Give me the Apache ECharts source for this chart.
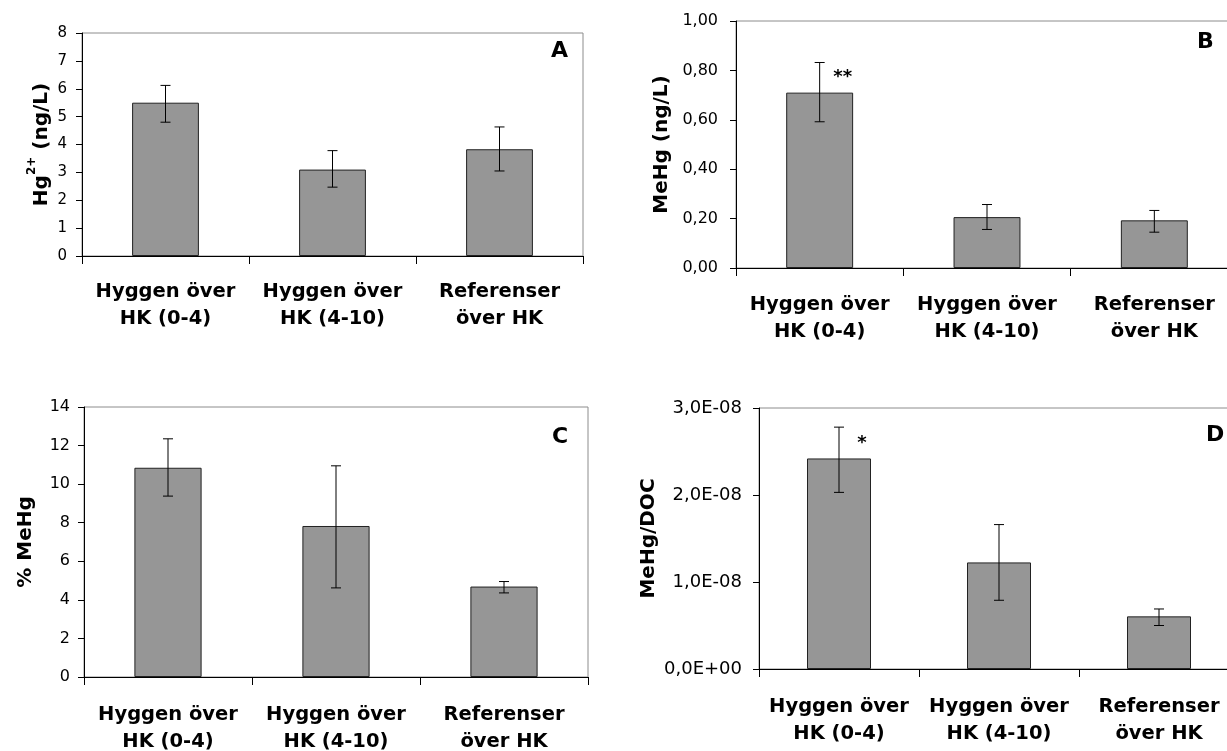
<!DOCTYPE html>
<html>
<head>
<meta charset="utf-8">
<title>Hg / MeHg</title>
<script src="https://cdn.jsdelivr.net/npm/echarts@6/dist/echarts.min.js"></script>
<style>
html,body{margin:0;padding:0;background:#fff;}
#chart{width:1227px;height:751px;}
</style>
</head>
<body>
<div id="chart"></div>
<script>
// categories (same for all four panels)
const categories = ['Hyggen över\nHK (0-4)', 'Hyggen över\nHK (4-10)', 'Referenser\növer HK'];

// A: Hg2+ (ng/L)
const hgMean = [5.5, 3.1, 3.83];
const hgLow = [4.8, 2.47, 3.05];
const hgHigh = [6.12, 3.78, 4.63];

// B: MeHg (ng/L)
const mehgMean = [0.71, 0.206, 0.193];
const mehgLow = [0.592, 0.156, 0.145];
const mehgHigh = [0.832, 0.257, 0.233];
const mehgNotes = ['**', '', ''];

// C: % MeHg
const pctMean = [10.85, 7.83, 4.69];
const pctLow = [9.38, 4.62, 4.36];
const pctHigh = [12.35, 10.95, 4.95];

// D: MeHg/DOC
const docMean = [2.42e-8, 1.225e-8, 0.605e-8];
const docLow = [2.03e-8, 0.79e-8, 0.5e-8];
const docHigh = [2.78e-8, 1.66e-8, 0.69e-8];
const docNotes = ['*', '', ''];

const yTicksA = {min: 0, max: 8, interval: 1};
const yTicksB = {min: 0, max: 1, interval: 0.2};
const yTicksC = {min: 0, max: 14, interval: 2};
const yTicksD = {min: 0, max: 3e-8, interval: 1e-8};

const FONT = 'DejaVu Sans';

function commaFixed(d){
  return function(v){ return v.toFixed(d).replace('.', ','); };
}
function sciComma(v){
  if (v === 0) return '0,0E+00';
  let e = Math.floor(Math.log10(v) + 1e-9);
  let m = v / Math.pow(10, e);
  let s = e < 0 ? '-' : '+';
  let ee = Math.abs(e);
  return m.toFixed(1).replace('.', ',') + 'E' + s + (ee < 10 ? '0' + ee : ee);
}

const chart = echarts.init(document.getElementById('chart'));

let grids = [], xAxes = [], yAxes = [], series = [], titles = [];

function panel(p){
  let i = grids.length;
  grids.push({
    left: p.box[0], top: p.box[1], width: p.box[2], height: p.box[3],
    show: true, borderColor: '#8c8c8c', borderWidth: 1,
    containLabel: false, outerBoundsMode: 'none'
  });
  xAxes.push({
    type: 'category', gridIndex: i, data: categories,
    axisLine: {lineStyle: {color: '#000', width: 1}},
    axisTick: {show: true, inside: false, length: 8, lineStyle: {color: '#000'}},
    axisLabel: {interval: 0, margin: p.xMargin, color: '#000', fontFamily: FONT,
      fontSize: 19.5, fontWeight: 'bold', lineHeight: 27}
  });
  yAxes.push({
    type: 'value', gridIndex: i, min: p.ticks.min, max: p.ticks.max, interval: p.ticks.interval,
    name: p.name, nameLocation: 'middle', nameRotate: 90, nameGap: p.nameGap,
    nameTextStyle: Object.assign({color: '#000', fontFamily: FONT, fontSize: 20, fontWeight: 'bold'}, p.nameStyle || {}),
    axisLine: {show: true, lineStyle: {color: '#000', width: 1}},
    axisTick: {show: true, length: 6, lineStyle: {color: '#000'}},
    splitLine: {show: false},
    axisLabel: {margin: p.yMargin, color: '#000', fontFamily: FONT, fontSize: p.tickSize, formatter: p.fmt}
  });
  series.push({
    type: 'bar', xAxisIndex: i, yAxisIndex: i, data: p.mean, barWidth: '40%',
    itemStyle: {color: '#969696', borderColor: '#222', borderWidth: 1},
    silent: true
  });
  let notes = p.notes || ['', '', ''];
  series.push({
    type: 'custom', xAxisIndex: i, yAxisIndex: i, z: 5, silent: true,
    data: categories.map((c, k) => [k, p.low[k], p.high[k], p.mean[k]]),
    renderItem: function(params, api){
      let k = api.value(0);
      let lo = api.coord([k, api.value(1)]);
      let hi = api.coord([k, api.value(2)]);
      let top = api.coord([k, api.value(3)]);
      let st = {stroke: '#000', lineWidth: 1};
      let kids = [
        {type: 'line', shape: {x1: hi[0], y1: hi[1], x2: lo[0], y2: lo[1]}, style: st},
        {type: 'line', shape: {x1: hi[0] - 5, y1: hi[1], x2: hi[0] + 5, y2: hi[1]}, style: st},
        {type: 'line', shape: {x1: lo[0] - 5, y1: lo[1], x2: lo[0] + 5, y2: lo[1]}, style: st}
      ];
      // significance stars
      if (notes[k]) {
        kids.push({type: 'text', x: top[0] + 23, y: top[1] - 6,
          style: {text: notes[k], fill: '#000', font: 'bold 18px ' + FONT,
            textAlign: 'center', textVerticalAlign: 'bottom'}});
      }
      return {type: 'group', children: kids};
    }
  });
  titles.push({text: p.letter, left: p.letterPos[0], top: p.letterPos[1], padding: 0,
    textStyle: {fontFamily: FONT, fontSize: 22, fontWeight: 'bold', color: '#000'}});
}

panel({box: [82, 33, 501, 223], ticks: yTicksA, mean: hgMean, low: hgLow, high: hgHigh,
  name: '{b|Hg}{s|2+}{b| (ng/L)}', nameGap: 30, xMargin: 22, yMargin: 15, tickSize: 15,
  nameStyle: {rich: {
    b: {fontFamily: FONT, fontSize: 20, fontWeight: 'bold', color: '#000', lineHeight: 26, verticalAlign: 'bottom'},
    s: {fontFamily: FONT, fontSize: 12, fontWeight: 'bold', color: '#000', lineHeight: 26, verticalAlign: 'top'}
  }},
  fmt: function(v){ return String(v); }, letter: 'A', letterPos: [551, 40]});

panel({box: [736, 21, 502, 247], ticks: yTicksB, mean: mehgMean, low: mehgLow, high: mehgHigh,
  notes: mehgNotes, name: 'MeHg (ng/L)', nameGap: 64, xMargin: 23, yMargin: 18, tickSize: 16,
  fmt: commaFixed(2), letter: 'B', letterPos: [1197, 31]});

panel({box: [84, 407, 504, 270], ticks: yTicksC, mean: pctMean, low: pctLow, high: pctHigh,
  name: '% MeHg', nameGap: 48, xMargin: 24, yMargin: 14, tickSize: 16,
  fmt: function(v){ return String(v); }, letter: 'C', letterPos: [552, 426]});

panel({box: [759, 408, 480, 261], ticks: yTicksD, mean: docMean, low: docLow, high: docHigh,
  notes: docNotes, name: 'MeHg/DOC', nameGap: 100, xMargin: 24, yMargin: 17, tickSize: 18,
  fmt: sciComma, letter: 'D', letterPos: [1206, 424]});

chart.setOption({
  backgroundColor: '#fff',
  animation: false,
  title: titles,
  grid: grids,
  xAxis: xAxes,
  yAxis: yAxes,
  series: series
});
</script>
</body>
</html>
